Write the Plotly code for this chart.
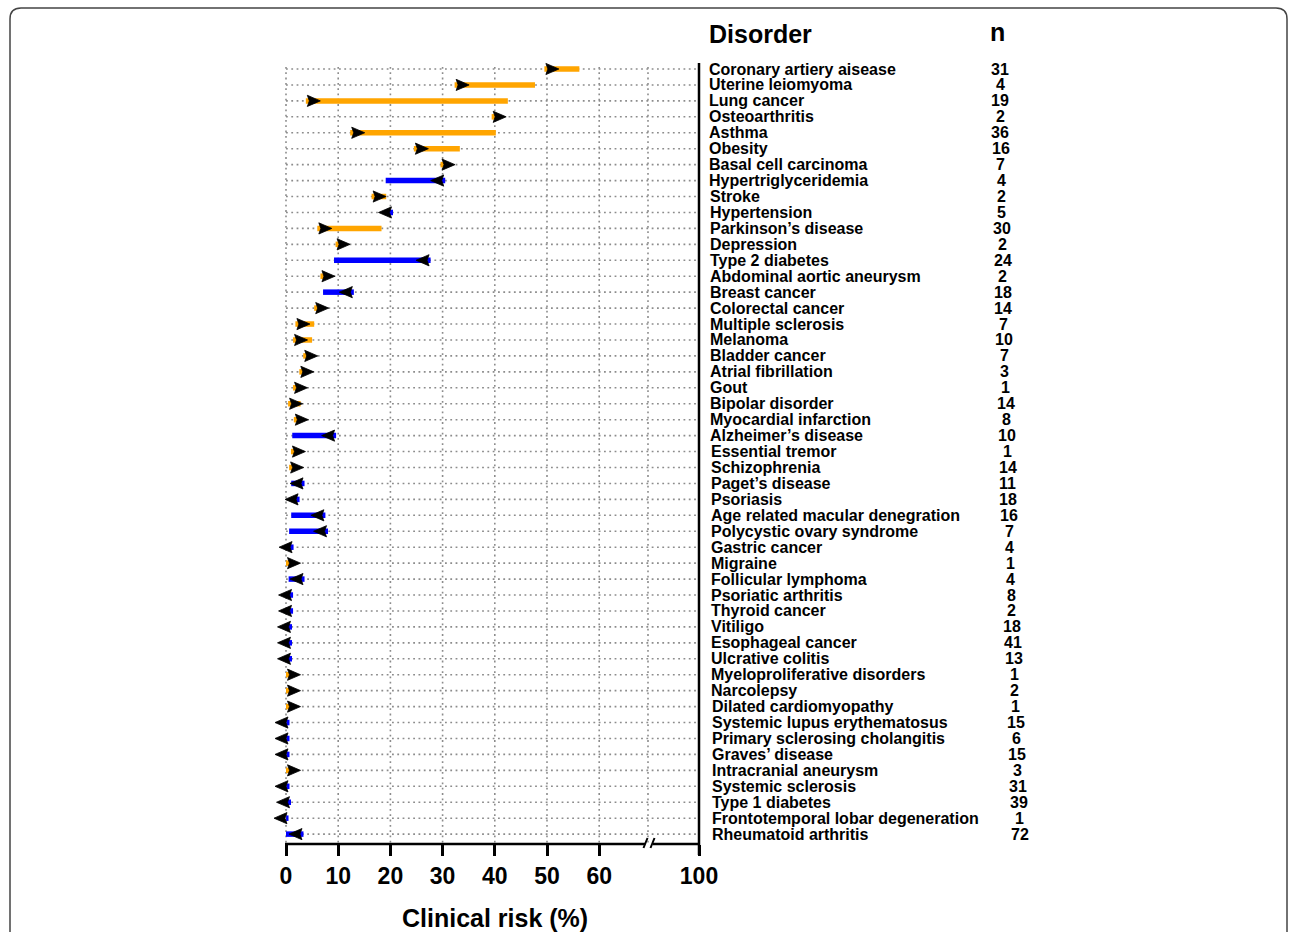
import plotly.graph_objects as go

# ---------------------------------------------------------------- data
disorders = [
    "Coronary artiery aisease", "Uterine leiomyoma", "Lung cancer", "Osteoarthritis",
    "Asthma", "Obesity", "Basal cell carcinoma", "Hypertriglyceridemia", "Stroke",
    "Hypertension", "Parkinson’s disease", "Depression", "Type 2 diabetes",
    "Abdominal aortic aneurysm", "Breast cancer", "Colorectal cancer",
    "Multiple sclerosis", "Melanoma", "Bladder cancer", "Atrial fibrillation", "Gout",
    "Bipolar disorder", "Myocardial infarction", "Alzheimer’s disease",
    "Essential tremor", "Schizophrenia", "Paget’s disease", "Psoriasis",
    "Age related macular denegration", "Polycystic ovary syndrome", "Gastric cancer",
    "Migraine", "Follicular lymphoma", "Psoriatic arthritis", "Thyroid cancer",
    "Vitiligo", "Esophageal cancer", "Ulcrative colitis",
    "Myeloproliferative disorders", "Narcolepsy", "Dilated cardiomyopathy",
    "Systemic lupus erythematosus", "Primary sclerosing cholangitis",
    "Graves’ disease", "Intracranial aneurysm", "Systemic sclerosis",
    "Type 1 diabetes", "Frontotemporal lobar degeneration", "Rheumatoid arthritis",
]
n_cases = [31, 4, 19, 2, 36, 16, 7, 4, 2, 5, 30, 2, 24, 2, 18, 14, 7, 10, 7, 3, 1,
           14, 8, 10, 1, 14, 11, 18, 16, 7, 4, 1, 4, 8, 2, 18, 41, 13, 1, 2, 1,
           15, 6, 15, 3, 31, 39, 1, 72]
# baseline clinical risk (%) and risk after genomic information (%)
start_risk = [49.5, 32.3, 3.8, 39.4, 12.3, 24.5, 29.6, 30.5, 16.4, 20.5, 6.0, 9.5,
              27.7, 6.6, 13.0, 5.4, 1.8, 1.35, 3.3, 2.55, 1.35, 0.4, 1.5, 9.6, 0.95,
              0.6, 3.55, 2.6, 7.55, 8.05, 1.45, 0.0, 3.55, 1.35, 1.35, 1.15, 1.15,
              1.15, 0.0, 0.0, 0.0, 0.67, 0.67, 0.67, 0.0, 0.67, 0.96, 0.48, 3.35]
end_risk = [56.2, 47.7, 42.5, 40.5, 40.2, 33.3, 30.8, 19.1, 19.2, 19.0, 18.3, 10.8,
            9.2, 7.8, 7.1, 6.6, 5.4, 5.0, 4.4, 3.6, 2.4, 2.8, 2.6, 1.2, 2.0,
            1.7, 1.0, 1.4, 1.0, 0.6, 0.5, 1.0, 0.5, 0.4, 0.4, 0.3, 0.3,
            0.3, 1.0, 1.0, 1.0, 0.05, 0.05, 0.05, 1.0, 0.05, 0.1, 0.02, 0.0]
tick_values = [0, 10, 20, 30, 40, 50, 60, 100]

# ---------------------------------------------------------------- geometry
W, H = 1290, 932
PX = 5.22            # pixels per percentage point on the linear part of the axis
X0_PX = 286          # pixel column of 0 %
X100_PX = 699        # pixel column of 100 % (after the axis break)
PLOT_L, PLOT_R = 270, 703
PLOT_T, PLOT_B = 60, 844
ROW1_PX, ROW_STEP = 69, 15.94

INC_COLOR = "#FFA500"
DEC_COLOR = "#0000FF"
FONT = "Liberation Sans, Arial, sans-serif"
GRID_COLOR = "#8c8c8c"
GRID_DASH = "1.8px,3.5px"

# arrowhead size in pixels
HEAD_GAP, HEAD_LEN, HEAD_HALF, HEAD_NOTCH = 1.5, 13.0, 5.6, 2.0


def axis_pos(v):
    """Broken axis: 0-60 % linear, 100 % drawn at the right end."""
    if v <= 60:
        return v
    end = (X100_PX - X0_PX) / PX
    return 60 + (v - 60) * (end - 60) / 40


def px_x(v):
    return X0_PX + axis_pos(v) * PX


def xp(px):
    return (px - PLOT_L) / (PLOT_R - PLOT_L)


def yp(py):
    return (PLOT_B - py) / (PLOT_B - PLOT_T)


def row_py(i):
    return ROW1_PX + (i - 1) * ROW_STEP


rows = list(range(1, len(disorders) + 1))
x_lo = (PLOT_L - X0_PX) / PX
x_hi = (PLOT_R - X0_PX) / PX
y_top = 1 - (ROW1_PX - PLOT_T) / ROW_STEP
y_bot = 1 + (PLOT_B - ROW1_PX) / ROW_STEP

fig = go.Figure()

# ---------------------------------------------------------------- risk segments
for color, test in ((INC_COLOR, lambda s, e: e >= s), (DEC_COLOR, lambda s, e: e < s)):
    xs, ys = [], []
    for r, s, e in zip(rows, start_risk, end_risk):
        if test(s, e):
            xs += [axis_pos(s), axis_pos(e), None]
            ys += [r, r, None]
    fig.add_trace(go.Scatter(x=xs, y=ys, mode="lines",
                             line=dict(color=color, width=5.5),
                             hoverinfo="skip", showlegend=False))

# arrowheads: base at the baseline risk, pointing toward the new risk
hx, hy = [], []
dy = HEAD_HALF / ROW_STEP
for r, s, e in zip(rows, start_risk, end_risk):
    d = 1 if e >= s else -1
    base = axis_pos(s) + d * HEAD_GAP / PX
    tip = base + d * HEAD_LEN / PX
    notch = base + d * HEAD_NOTCH / PX
    hx += [base, tip, base, notch, base, None]
    hy += [r - dy, r, r + dy, r, r - dy, None]
fig.add_trace(go.Scatter(x=hx, y=hy, mode="lines", fill="toself", fillcolor="black",
                         line=dict(color="black", width=0.8), cliponaxis=False,
                         hoverinfo="skip", showlegend=False))

# ---------------------------------------------------------------- grid and axes
shapes = []
for r in rows:
    shapes.append(dict(type="line", xref="paper", yref="paper", layer="below",
                       x0=xp(px_x(0)), x1=xp(X100_PX), y0=yp(row_py(r)), y1=yp(row_py(r)),
                       line=dict(color=GRID_COLOR, width=1.6, dash=GRID_DASH)))
grid_cols = [px_x(v) for v in tick_values if v <= 60] + [648]
for gx in grid_cols:
    shapes.append(dict(type="line", xref="paper", yref="paper", layer="below",
                       x0=xp(gx), x1=xp(gx), y0=yp(row_py(1) - 2), y1=yp(PLOT_B),
                       line=dict(color=GRID_COLOR, width=1.6, dash=GRID_DASH)))

AX = dict(color="black", width=2.5)
# right-hand vertical axis
shapes.append(dict(type="line", xref="paper", yref="paper",
                   x0=xp(X100_PX), x1=xp(X100_PX), y0=yp(63), y1=yp(855), line=AX))
# bottom axis with a break between 60 and 100
shapes.append(dict(type="line", xref="paper", yref="paper",
                   x0=xp(px_x(0) - 1), x1=xp(645), y0=yp(PLOT_B), y1=yp(PLOT_B), line=AX))
shapes.append(dict(type="line", xref="paper", yref="paper",
                   x0=xp(653), x1=xp(X100_PX + 1), y0=yp(PLOT_B), y1=yp(PLOT_B), line=AX))
for bx in (643.5, 650.5):
    shapes.append(dict(type="line", xref="paper", yref="paper",
                       x0=xp(bx), x1=xp(bx + 4), y0=yp(848), y1=yp(838),
                       line=dict(color="black", width=2)))

# rounded frame around the figure
fx0, fx1, fy0, fy1, rad = 10, 1287, 8, 960, 11
frame = (f"M {xp(fx0)},{yp(fy1)} L {xp(fx0)},{yp(fy0 + rad)} "
         f"Q {xp(fx0)},{yp(fy0)} {xp(fx0 + rad)},{yp(fy0)} "
         f"L {xp(fx1 - rad)},{yp(fy0)} Q {xp(fx1)},{yp(fy0)} {xp(fx1)},{yp(fy0 + rad)} "
         f"L {xp(fx1)},{yp(fy1)}")
shapes.append(dict(type="path", xref="paper", yref="paper", path=frame,
                   line=dict(color="#444444", width=1.5)))

# ---------------------------------------------------------------- text
annotations = []
last = len(rows) - 1
for k, (r, name, n) in enumerate(zip(rows, disorders, n_cases)):
    f = k / last
    annotations.append(dict(xref="paper", yref="paper", x=xp(707 + 3 * f), y=yp(row_py(r)),
                            text=f"<b>{name}</b>", showarrow=False, xanchor="left",
                            yanchor="middle", font=dict(family=FONT, size=16, color="black")))
    annotations.append(dict(xref="paper", yref="paper", x=xp(1000 + 20 * f ** 1.5),
                            y=yp(row_py(r)), text=f"<b>{n}</b>", showarrow=False,
                            xanchor="center", yanchor="middle",
                            font=dict(family=FONT, size=16, color="black")))
annotations.append(dict(xref="paper", yref="paper", x=xp(707), y=yp(34), text="<b>Disorder</b>",
                        showarrow=False, xanchor="left", yanchor="middle",
                        font=dict(family=FONT, size=25, color="black")))
annotations.append(dict(xref="paper", yref="paper", x=xp(997), y=yp(32), text="<b>n</b>",
                        showarrow=False, xanchor="center", yanchor="middle",
                        font=dict(family=FONT, size=25, color="black")))
annotations.append(dict(xref="paper", yref="paper", x=xp(494.5), y=yp(918),
                        text="<b>Clinical risk (%)</b>", showarrow=False,
                        xanchor="center", yanchor="middle",
                        font=dict(family=FONT, size=25, color="black")))

fig.update_layout(
    width=W, height=H,
    margin=dict(l=PLOT_L, r=W - PLOT_R, t=PLOT_T, b=H - PLOT_B),
    paper_bgcolor="white", plot_bgcolor="white",
    xaxis=dict(range=[x_lo, x_hi], showgrid=False, zeroline=False, showline=False,
               tickmode="array", tickvals=[axis_pos(v) for v in tick_values],
               ticktext=[f"<b>{v}</b>" for v in tick_values],
               ticks="outside", ticklen=11, tickwidth=2.5, tickcolor="black",
               tickfont=dict(family=FONT, size=23, color="black")),
    yaxis=dict(range=[y_bot, y_top], visible=False, showgrid=False, zeroline=False),
    shapes=shapes, annotations=annotations,
)

fig.write_html("out.html")
